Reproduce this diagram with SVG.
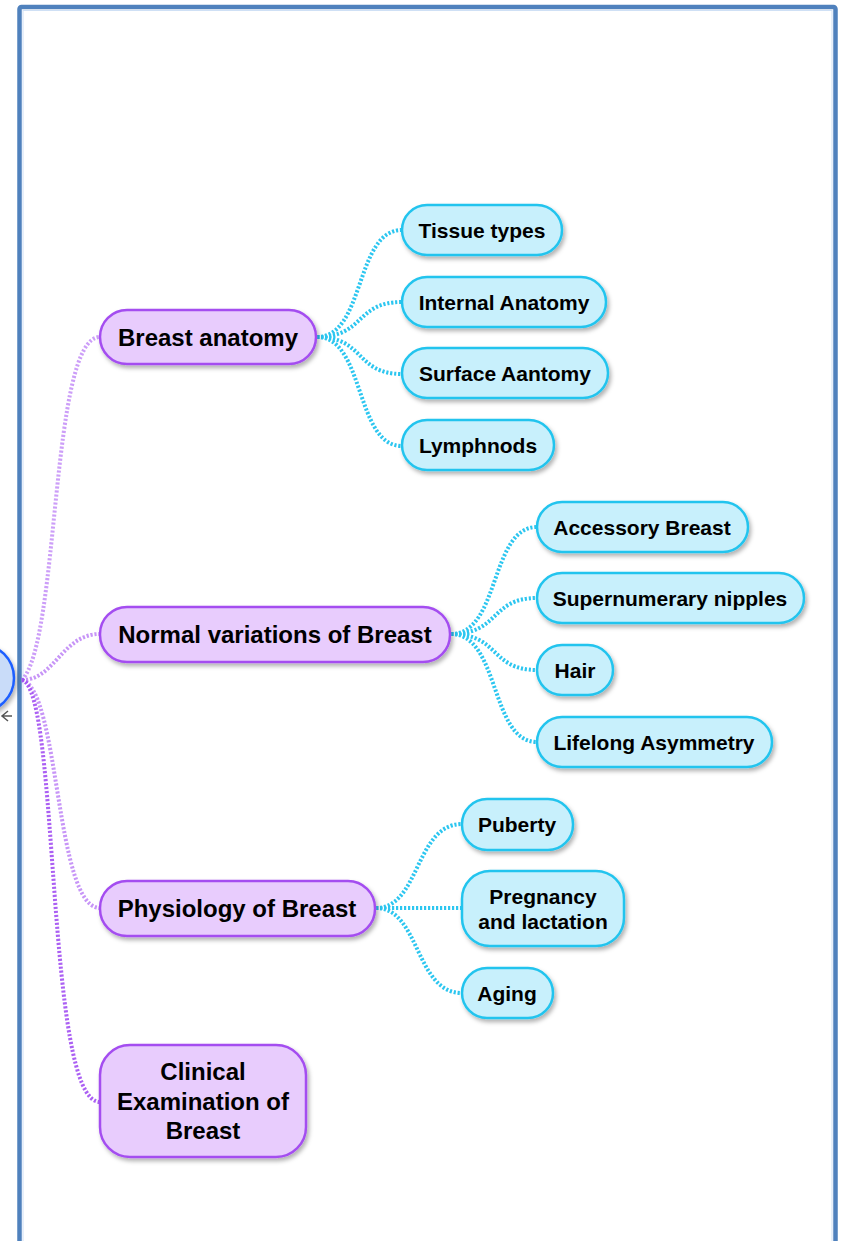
<svg xmlns="http://www.w3.org/2000/svg" width="841" height="1241" viewBox="0 0 841 1241">
<defs>
<filter id="sh" x="-20%" y="-20%" width="140%" height="150%">
<feDropShadow dx="2" dy="3" stdDeviation="2" flood-color="#000" flood-opacity="0.3"/>
</filter>
</defs>
<style>
.main rect{fill:#e8ccfd;stroke:#a44ef0;stroke-width:2.5;filter:url(#sh)}
.sub rect{fill:#c8f0fc;stroke:#22c4ee;stroke-width:2.5;filter:url(#sh)}
text{font-family:"Liberation Sans",Arial,sans-serif;font-weight:bold;fill:#000;text-anchor:middle}
.main text{font-size:24px}
.sub text{font-size:21px}
.pc{fill:none;stroke:#a24ff2;stroke-width:4;stroke-dasharray:2.2 1.8}
.cc{fill:none;stroke:#2cc6f0;stroke-width:4;stroke-dasharray:2.2 1.8}
</style>
<rect x="0" y="0" width="841" height="1241" fill="#fff"/>
<rect x="19.5" y="7" width="816" height="1260" fill="none" stroke="#4f81bd" stroke-width="4.5" rx="2"/>
<rect x="23" y="10.5" width="809" height="1260" fill="none" stroke="#cfe0f5" stroke-width="1"/>

<g id="hub">
<circle cx="-20" cy="678" r="34" fill="#c9dcf9" stroke="#1f5fff" stroke-width="2.5" filter="url(#sh)"/>
<path d="M12,716 L2,716 M8,711 L2,716 L8,721" fill="none" stroke="#555" stroke-width="1.5"/>
</g>

<g id="connectors">
<path class="pc" d="M22,680 C60,640 50,337 100,337" opacity="0.55"/>
<path class="pc" d="M22,680 C55,680 62,634 100,634" opacity="0.6"/>
<path class="pc" d="M22,680 C60,690 55,908 100,908" opacity="0.6"/>
<path class="pc" d="M22,680 C60,690 45,1102 100,1102" opacity="0.9"/>

<path class="cc" d="M317,337 C365,337 355,230 402,230"/>
<path class="cc" d="M317,337 C365,337 355,302 402,302"/>
<path class="cc" d="M317,337 C365,337 355,374 402,374"/>
<path class="cc" d="M317,337 C365,337 355,446 402,446"/>

<path class="cc" d="M451,634 C500,634 490,527 537,527"/>
<path class="cc" d="M451,634 C500,634 490,598 537,598"/>
<path class="cc" d="M451,634 C500,634 490,670 537,670"/>
<path class="cc" d="M451,634 C500,634 490,742 537,742"/>

<path class="cc" d="M376,908 C420,908 415,824 462,824"/>
<path class="cc" d="M376,908 L462,908"/>
<path class="cc" d="M376,908 C420,908 415,993 462,993"/>
</g>

<g id="n-breast-anatomy" class="main">
<rect x="100" y="310" width="216" height="54" rx="27"/>
<text x="208" y="345.5">Breast anatomy</text>
</g>
<g id="n-normal-variations" class="main">
<rect x="100" y="607" width="350" height="55" rx="27"/>
<text x="275" y="642.5">Normal variations of Breast</text>
</g>
<g id="n-physiology" class="main">
<rect x="100" y="881" width="275" height="55" rx="27"/>
<text x="237" y="916.5">Physiology of Breast</text>
</g>
<g id="n-clinical" class="main">
<rect x="100" y="1045" width="206" height="112" rx="30"/>
<text x="203" y="1080">Clinical</text>
<text x="203" y="1110">Examination of</text>
<text x="203" y="1139">Breast</text>
</g>

<g id="n-tissue" class="sub">
<rect x="402" y="205" width="160" height="50" rx="25"/>
<text x="482" y="237.5">Tissue types</text>
</g>
<g id="n-internal" class="sub">
<rect x="402" y="277" width="204" height="50" rx="25"/>
<text x="504" y="309.5">Internal Anatomy</text>
</g>
<g id="n-surface" class="sub">
<rect x="402" y="348" width="206" height="50" rx="25"/>
<text x="505" y="380.5">Surface Aantomy</text>
</g>
<g id="n-lymph" class="sub">
<rect x="402" y="420" width="152" height="50" rx="25"/>
<text x="478" y="452.5">Lymphnods</text>
</g>

<g id="n-accessory" class="sub">
<rect x="537" y="502" width="211" height="50" rx="25"/>
<text x="642" y="534.5">Accessory Breast</text>
</g>
<g id="n-supernumerary" class="sub">
<rect x="537" y="573" width="267" height="50" rx="25"/>
<text x="670" y="605.5">Supernumerary nipples</text>
</g>
<g id="n-hair" class="sub">
<rect x="537" y="645" width="76" height="50" rx="25"/>
<text x="575" y="677.5">Hair</text>
</g>
<g id="n-lifelong" class="sub">
<rect x="537" y="717" width="235" height="50" rx="25"/>
<text x="654" y="749.5">Lifelong Asymmetry</text>
</g>

<g id="n-puberty" class="sub">
<rect x="462" y="799" width="111" height="51" rx="25"/>
<text x="517" y="831.5">Puberty</text>
</g>
<g id="n-pregnancy" class="sub">
<rect x="462" y="871" width="162" height="75" rx="28"/>
<text x="543" y="904">Pregnancy</text>
<text x="543" y="929">and lactation</text>
</g>
<g id="n-aging" class="sub">
<rect x="462" y="968" width="91" height="50" rx="25"/>
<text x="507" y="1000.5">Aging</text>
</g>
</svg>
